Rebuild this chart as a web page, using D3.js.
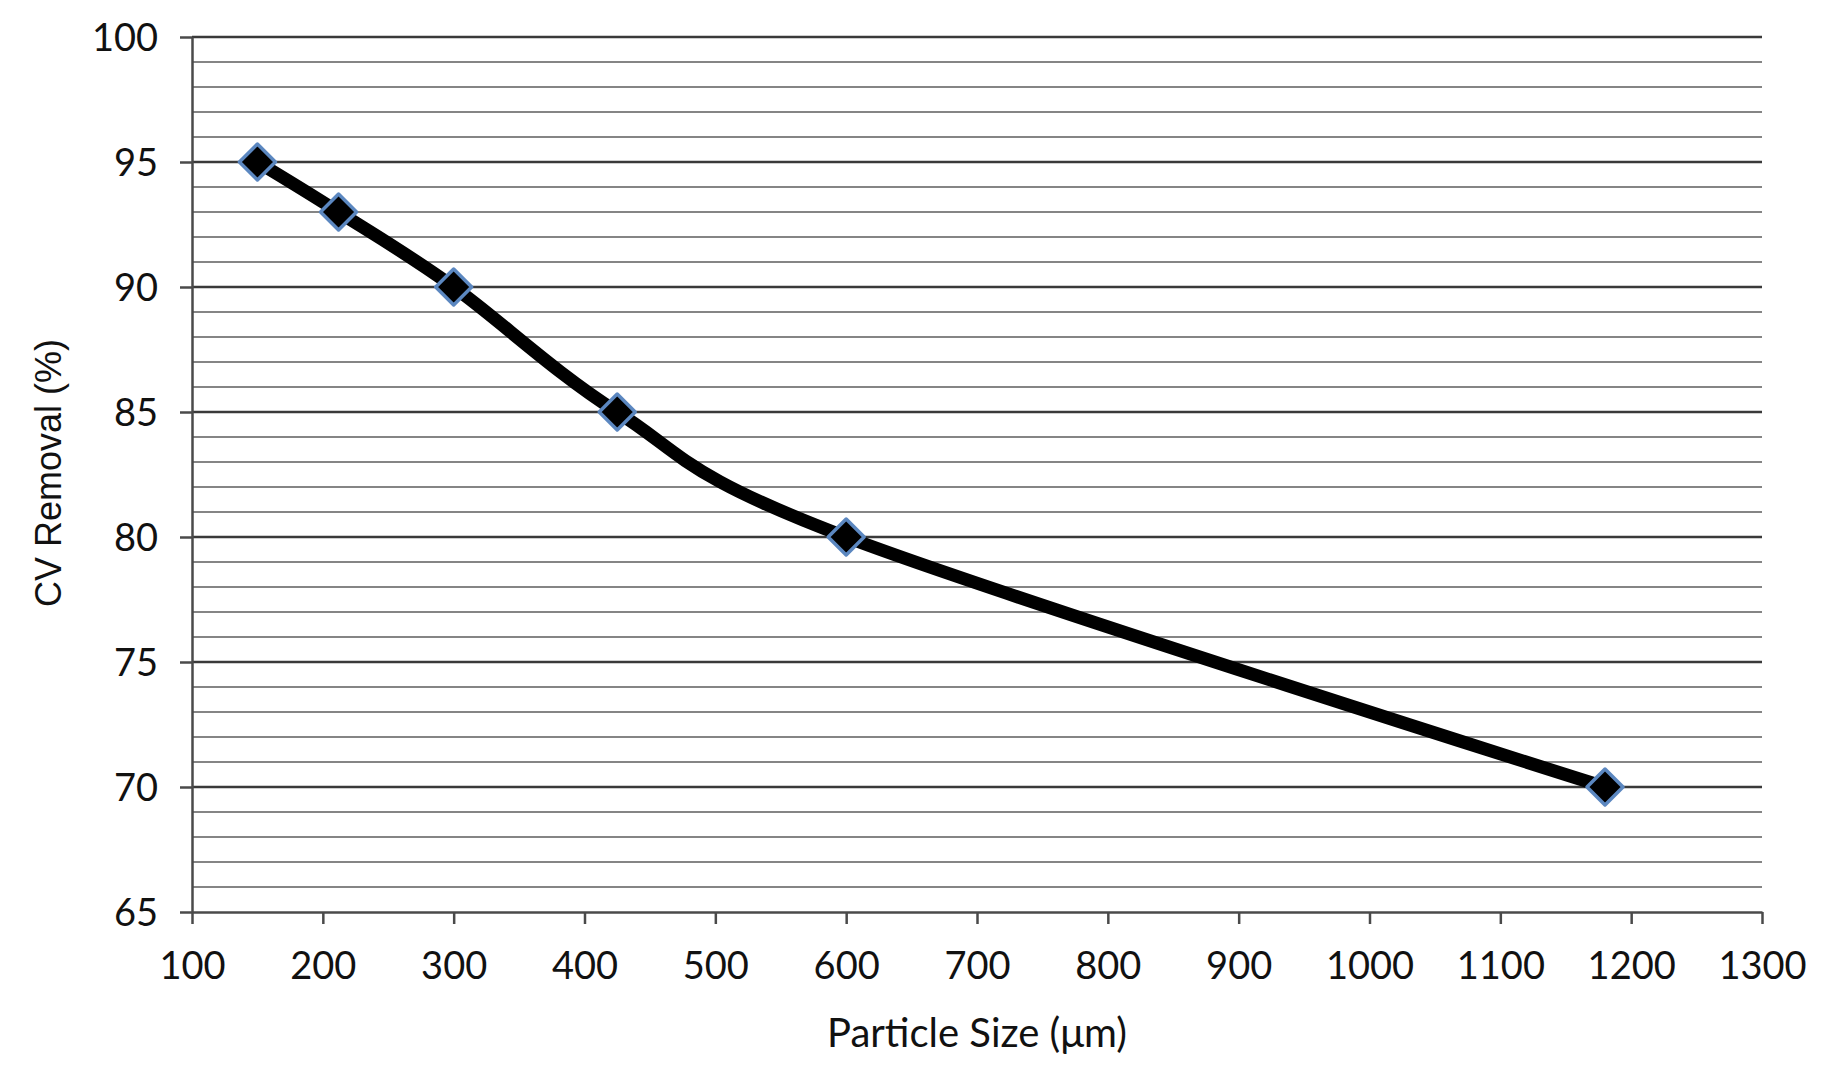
<!DOCTYPE html>
<html>
<head>
  <meta charset="utf-8">
  <title>CV Removal vs Particle Size</title>
  <script src="https://cdn.jsdelivr.net/npm/d3@7/dist/d3.min.js"></script>
  <style>
    body { margin: 0; background: #fff; }
    text { font-family: Lato, "Open Sans", sans-serif; fill: #111; }
  </style>
</head>
<body>
<div id="chart"></div>
<script>
// data
var particleSize = [150, 212, 300, 425, 600, 1180];
var cvRemoval = [95, 93, 90, 85, 80, 70];
var xTicks = [100, 200, 300, 400, 500, 600, 700, 800, 900, 1000, 1100, 1200, 1300];
var yTicks = [65, 70, 75, 80, 85, 90, 95, 100];

var W = 1831, H = 1090;
var plotL = 192, plotR = 1762, plotT = 37, plotB = 912;

var svg = d3.select('#chart').append('svg')
  .attr('width', W)
  .attr('height', H);

var x = d3.scaleLinear().domain([100, 1300]).range([plotL, plotR]);
var y = d3.scaleLinear().domain([65, 100]).range([plotB, plotT]);

// minor gridlines every 1
var minor = d3.range(66, 100).filter(function(d) { return d % 5 !== 0; });
svg.append('g').selectAll('line')
  .data(minor)
  .enter().append('line')
  .attr('x1', plotL).attr('x2', plotR)
  .attr('y1', function(d) { return y(d); })
  .attr('y2', function(d) { return y(d); })
  .attr('stroke', '#858585')
  .attr('stroke-width', 2);

// major gridlines every 5
svg.append('g').selectAll('line')
  .data(yTicks.filter(function(d) { return d > 65; }))
  .enter().append('line')
  .attr('x1', plotL).attr('x2', plotR)
  .attr('y1', function(d) { return y(d); })
  .attr('y2', function(d) { return y(d); })
  .attr('stroke', '#3a3a3a')
  .attr('stroke-width', 2.5);

// axes
var xAxis = svg.append('g')
  .attr('transform', 'translate(0,' + plotB + ')')
  .call(d3.axisBottom(x).tickValues(xTicks).tickFormat(d3.format('d'))
    .tickSize(12).tickPadding(28).tickSizeOuter(0));
var yAxis = svg.append('g')
  .attr('transform', 'translate(' + plotL + ',0)')
  .call(d3.axisLeft(y).tickValues(yTicks).tickFormat(d3.format('d'))
    .tickSize(12).tickPadding(22).tickSizeOuter(0));

[xAxis, yAxis].forEach(function(a) {
  a.select('.domain').attr('stroke', '#4a4a4a').attr('stroke-width', 2.5);
  a.selectAll('.tick line').attr('stroke', '#4a4a4a').attr('stroke-width', 2.5);
  a.selectAll('.tick text')
    .style('font-family', 'Lato, sans-serif')
    .style('font-size', '38px')
    .attr('fill', '#111');
});
xAxis.selectAll('.tick text').attr('dy', '0.71em');
yAxis.selectAll('.tick text').attr('dy', '0.36em');

// smoothed line
var pts = particleSize.map(function(d, i) { return [d, cvRemoval[i]]; });
var line = d3.line()
  .x(function(d) { return x(d[0]); })
  .y(function(d) { return y(d[1]); })
  .curve(d3.curveCatmullRom.alpha(0));

svg.append('path')
  .datum(pts)
  .attr('d', line)
  .attr('fill', 'none')
  .attr('stroke', '#000')
  .attr('stroke-width', 13)
  .attr('stroke-linejoin', 'round');

// diamond markers
var s = 18;
svg.append('g').selectAll('path')
  .data(pts)
  .enter().append('path')
  .attr('transform', function(d) { return 'translate(' + x(d[0]) + ',' + y(d[1]) + ')'; })
  .attr('d', 'M0,' + (-s) + 'L' + s + ',0L0,' + s + 'L' + (-s) + ',0Z')
  .attr('fill', '#000')
  .attr('stroke', '#5b87c0')
  .attr('stroke-width', 3.5)
  .attr('stroke-linejoin', 'round');

// axis titles
svg.append('text')
  .attr('x', 977)
  .attr('y', 1047)
  .attr('text-anchor', 'middle')
  .style('font-size', '40px')
  .text('Particle Size (μm)');

svg.append('text')
  .attr('transform', 'translate(61,473) rotate(-90)')
  .attr('text-anchor', 'middle')
  .style('font-family', '"Liberation Sans", Arial, sans-serif')
  .style('font-size', '36px')
  .text('CV Removal (%)');
</script>
</body>
</html>
